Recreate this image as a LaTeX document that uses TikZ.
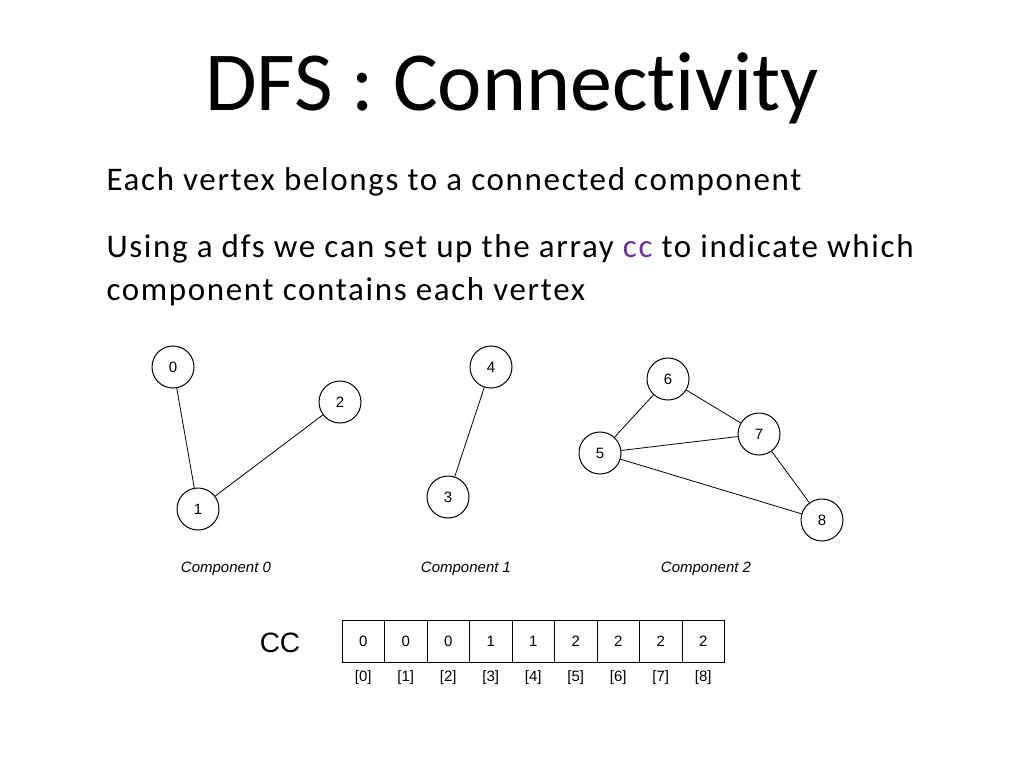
\documentclass[tikz,border=0pt]{standalone}
\usepackage{fontspec}
\setmainfont{Carlito}[Ligatures={NoCommon,NoRare}]
\newfontfamily\bodyfont{Carlito}[LetterSpace=5]
\newfontfamily\hv{Liberation Sans}
\begin{document}
\begin{tikzpicture}[x=1pt,y=-1pt,
  vert/.style={circle,draw,line width=1pt,minimum size=42pt,inner sep=0pt,font=\hv\fontsize{15}{15}\selectfont},
  edge/.style={line width=0.8pt},
  comptext/.style={font=\hv\itshape\fontsize{15}{15}\selectfont},
  cell/.style={draw,line width=1pt,minimum width=42.5pt,minimum height=42pt,inner sep=0pt,font=\hv\fontsize{15}{15}\selectfont},
  idx/.style={font=\hv\fontsize{15}{15}\selectfont},
  body/.style={anchor=base west,font=\bodyfont\fontsize{33}{33}\selectfont}]
\useasboundingbox (0,0) rectangle (1024,768);
\node[font=\fontsize{84}{84}\selectfont] (title) at (512,88) {DFS : Connectivity};
\node[body] (l1) at (103,190) {Each vertex belongs to a connected component};
\node[body] (l2) at (103,257) {Using a dfs we can set up the array \textcolor[HTML]{7030A0}{cc} to indicate which};
\node[body] (l3) at (103,300) {component contains each vertex};
\node[vert] (v0) at (173,367) {0};
\node[vert] (v2) at (340,402) {2};
\node[vert] (v1) at (198,509) {1};
\node[vert] (v4) at (491,367) {4};
\node[vert] (v3) at (448,497) {3};
\node[vert] (v6) at (668,379) {6};
\node[vert] (v7) at (759,434) {7};
\node[vert] (v5) at (600,453) {5};
\node[vert] (v8) at (822,520) {8};
\draw[edge] (v0)--(v1); \draw[edge] (v1)--(v2); \draw[edge] (v4)--(v3);
\draw[edge] (v6)--(v5); \draw[edge] (v6)--(v7); \draw[edge] (v5)--(v7);
\draw[edge] (v5)--(v8); \draw[edge] (v7)--(v8);
\node[comptext] (c0) at (226,569) {Component 0};
\node[comptext] (c1) at (466,569) {Component 1};
\node[comptext] (c2) at (706,569) {Component 2};
\node[font=\hv\fontsize{28}{28}\selectfont] (cc) at (280,643) {CC};
\foreach \v [count=\i from 0] in {0,0,0,1,1,2,2,2,2}{
  \node[cell] (a\i) at (363.25+42.5*\i,641) {\v};
  \node[idx] (b\i) at (363.25+42.5*\i,678) {[\i]};
}
\end{tikzpicture}
\end{document}
